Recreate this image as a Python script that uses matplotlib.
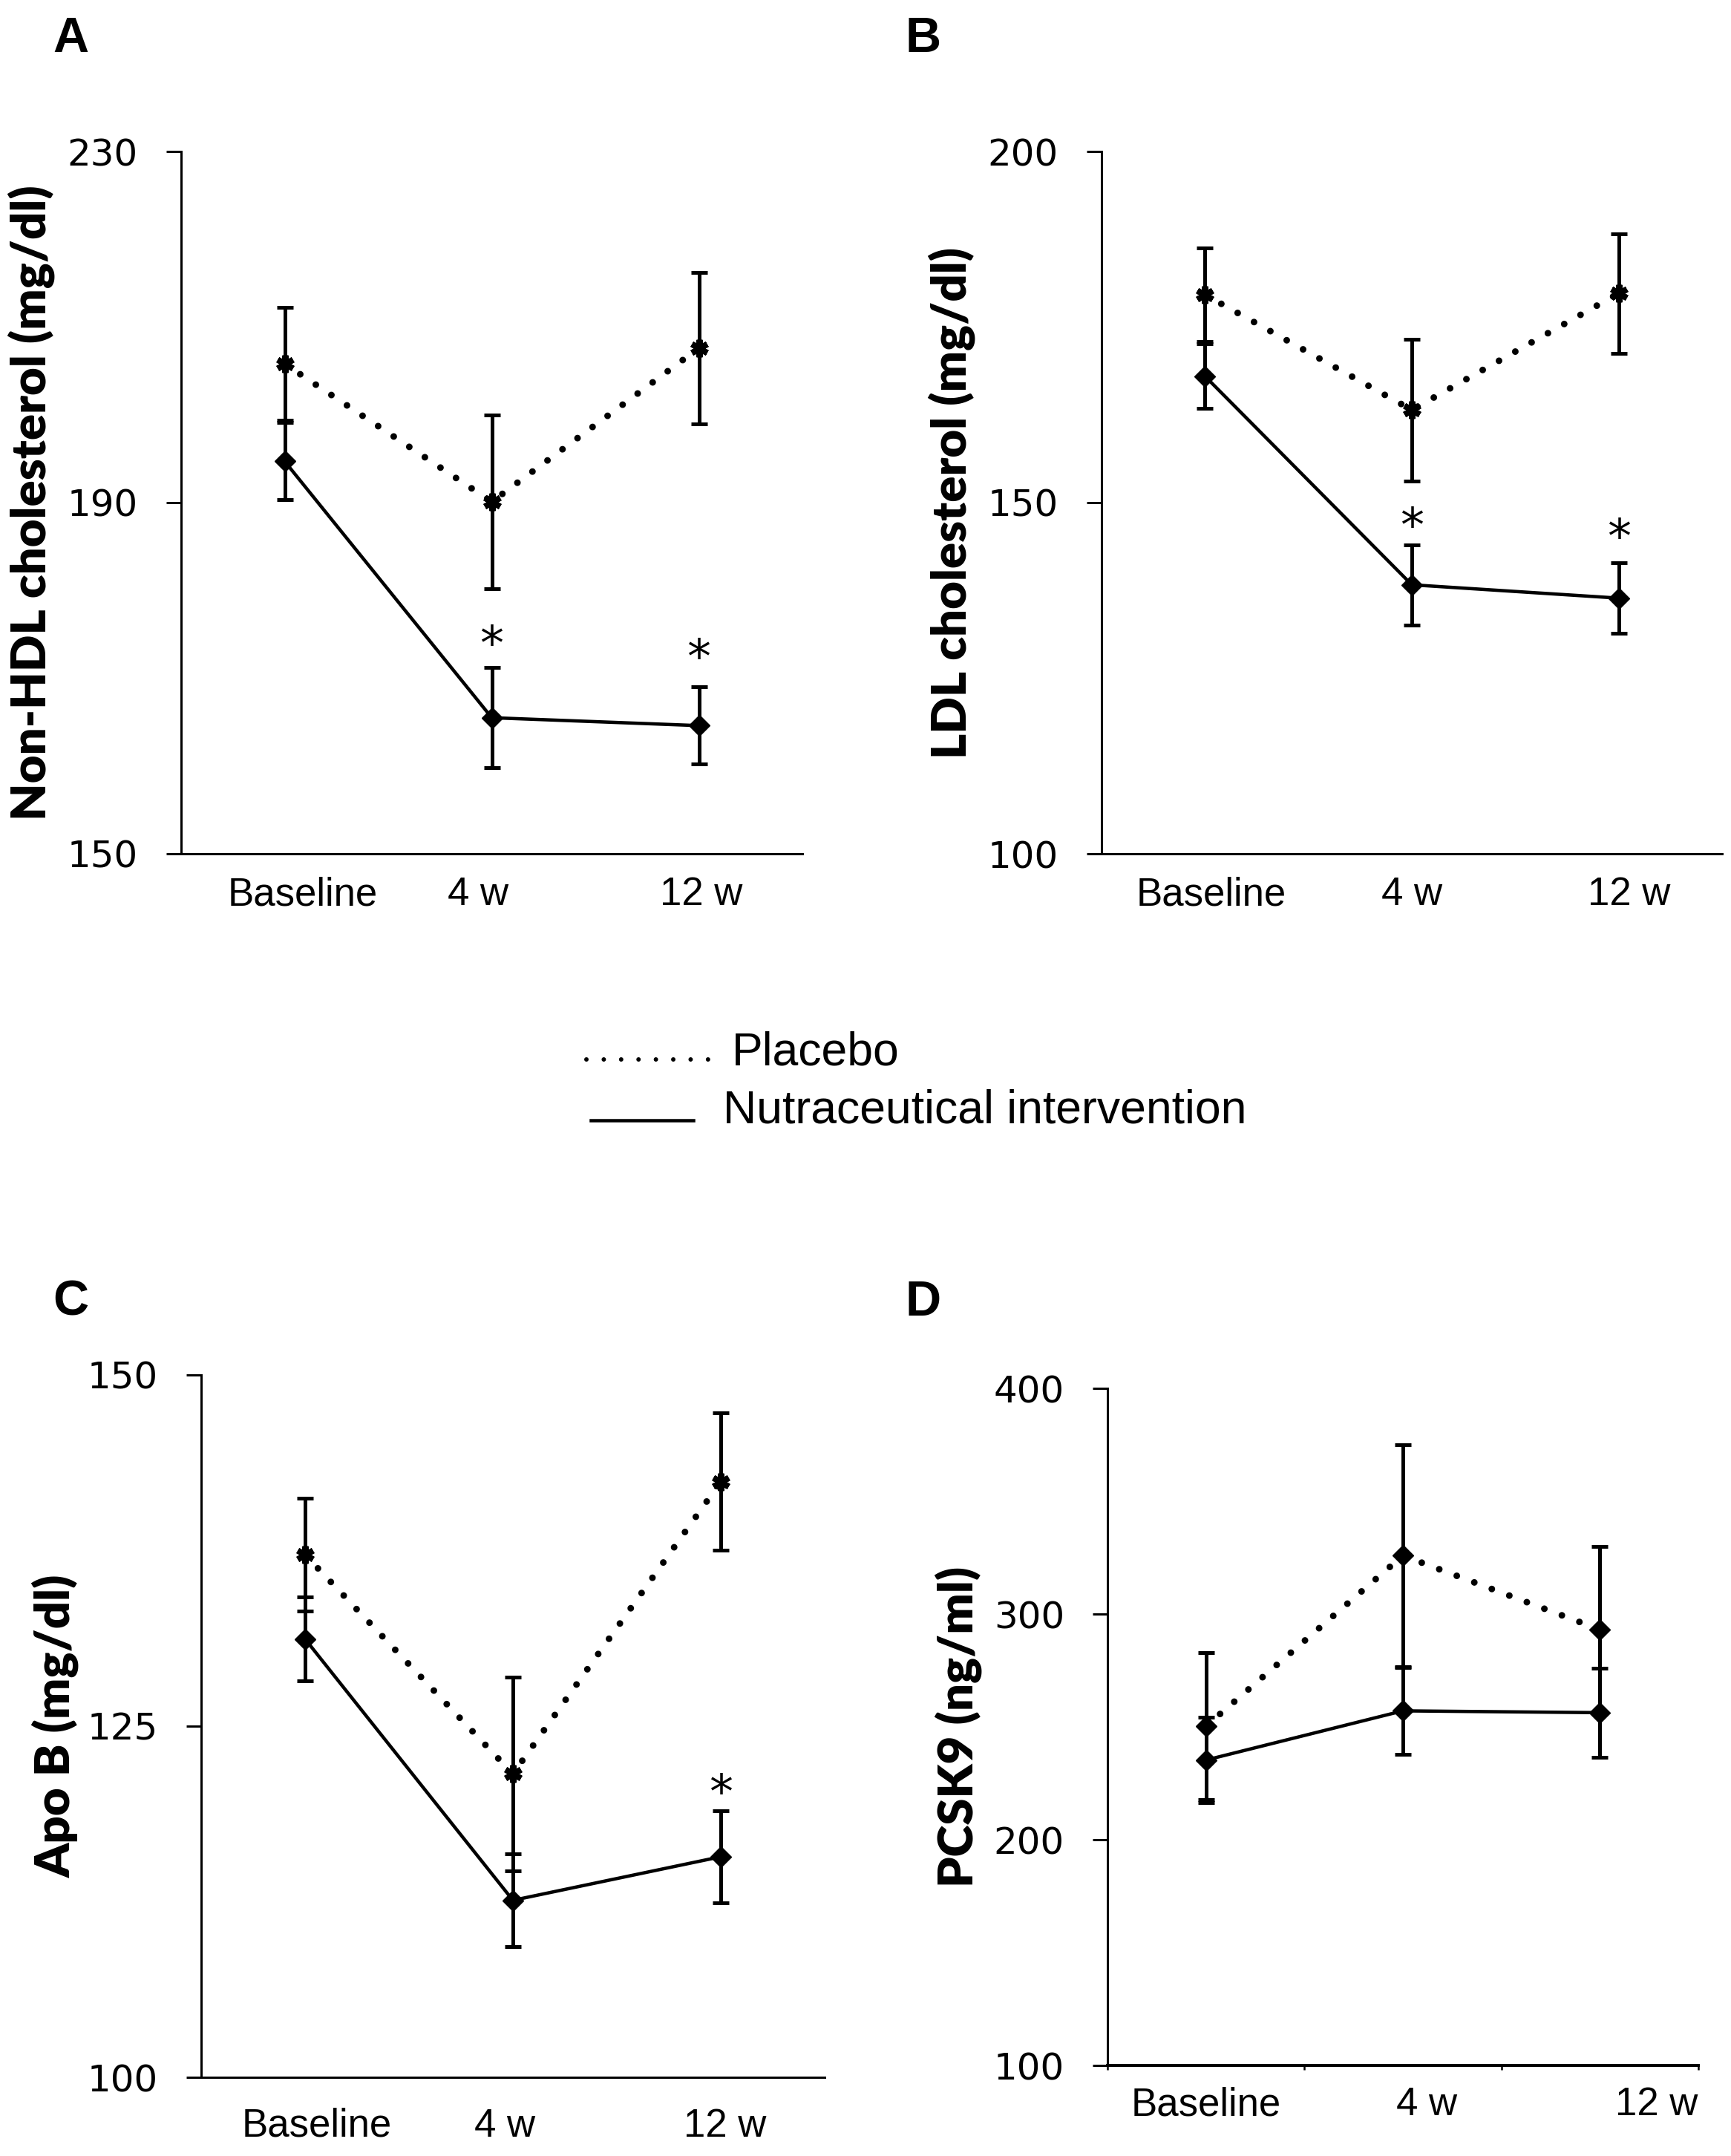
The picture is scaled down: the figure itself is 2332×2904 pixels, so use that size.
import numpy as np
import matplotlib
matplotlib.use("Agg")
import matplotlib.pyplot as plt
from matplotlib.lines import Line2D
from matplotlib.transforms import ScaledTranslation

# ---- data ----
timepoints = ["Baseline", "4 w", "12 w"]

nonhdl_placebo = [205.8, 190.1, 207.6]
nonhdl_placebo_err = [6.4, 9.9, 8.6]
nonhdl_nutra = [194.7, 165.5, 164.6]
nonhdl_nutra_err = [4.4, 5.7, 4.4]
nonhdl_stars = [None, 175.2, 173.7]

ldl_placebo = [179.6, 163.2, 179.8]
ldl_placebo_err = [6.7, 10.1, 8.5]
ldl_nutra = [168.0, 138.3, 136.4]
ldl_nutra_err = [4.6, 5.7, 5.0]
ldl_stars = [None, 148.3, 146.7]

apob_placebo = [137.2, 121.6, 142.4]
apob_placebo_err = [4.0, 6.9, 4.9]
apob_nutra = [131.2, 112.6, 115.7]
apob_nutra_err = [3.0, 3.3, 3.3]
apob_stars = [None, None, 121.1]

pcsk9_placebo = [250.3, 325.9, 293.1]
pcsk9_placebo_err = [32.5, 49.1, 36.8]
pcsk9_nutra = [235.3, 257.1, 256.3]
pcsk9_nutra_err = [18.9, 19.2, 19.7]
pcsk9_stars = [None, None, None]

W, H = 2332, 2904
fig = plt.figure(figsize=(W / 100, H / 100), dpi=100)

def px(v):
    # pixels -> points
    return v * 72 / 100

panels = [
    dict(letter="A", rect=(244, 204, 1081, 1150), ylim=(150, 230), yticks=[150, 190, 230],
         ylabel="Non-HDL cholesterol (mg/dl)", labx=42, placebo=nonhdl_placebo, perr=nonhdl_placebo_err,
         nutra=nonhdl_nutra, nerr=nonhdl_nutra_err, stars=nonhdl_stars, pmark="star",
         letxy=(71, 70), xpad=30, xoff=[24, -18, 3], minor=False),
    dict(letter="B", rect=(1484, 204, 2320, 1150), ylim=(100, 200), yticks=[100, 150, 200],
         ylabel="LDL cholesterol (mg/dl)", labx=1282, placebo=ldl_placebo, perr=ldl_placebo_err,
         nutra=ldl_nutra, nerr=ldl_nutra_err, stars=ldl_stars, pmark="star",
         letxy=(1219, 70), xpad=30, xoff=[8, 0, 14], minor=False),
    dict(letter="C", rect=(271, 1852, 1111, 2798), ylim=(100, 150), yticks=[100, 125, 150],
         ylabel="Apo B (mg/dl)", labx=75, placebo=apob_placebo, perr=apob_placebo_err,
         nutra=apob_nutra, nerr=apob_nutra_err, stars=apob_stars, pmark="star",
         letxy=(71, 1772), xpad=41, xoff=[16, -11, 6], minor=False),
    dict(letter="D", rect=(1492, 1870, 2288, 2782), ylim=(100, 400), yticks=[100, 200, 300, 400],
         ylabel="PCSK9 (ng/ml)", labx=1291, placebo=pcsk9_placebo, perr=pcsk9_placebo_err,
         nutra=pcsk9_nutra, nerr=pcsk9_nutra_err, stars=pcsk9_stars, pmark="diamond",
         letxy=(1219, 1772), xpad=28, xoff=[0, 32, 76], minor=True),
]

x = np.arange(len(timepoints))

for p in panels:
    l, t, r, b = p["rect"]
    ax = fig.add_axes([l / W, 1 - b / H, (r - l) / W, (b - t) / H])
    ax.set_xlim(-0.5, 2.5)
    ax.set_ylim(*p["ylim"])
    ax.set_yticks(p["yticks"])
    ax.set_xticks(x)
    ax.set_xticklabels(timepoints, fontfamily="Liberation Sans", fontsize=38)
    for s in ["top", "right"]:
        ax.spines[s].set_visible(False)
    for s in ["left", "bottom"]:
        ax.spines[s].set_linewidth(px(3))
    ax.tick_params(axis="y", direction="out", length=px(20), width=px(3), pad=px(38), labelsize=36)
    ax.tick_params(axis="x", length=0, pad=px(p["xpad"]))
    if p["minor"]:
        ax.set_xticks([-0.5, 0.5, 1.5, 2.5], minor=True)
        ax.tick_params(axis="x", which="minor", direction="out", length=px(6), width=px(2.5))
        ax.spines["bottom"].set_linewidth(px(4))
    for lab, dx in zip(ax.get_xticklabels(), p["xoff"]):
        lab.set_transform(lab.get_transform() + ScaledTranslation(px(dx) / 72, 0, fig.dpi_scale_trans))

    # placebo (dotted)
    if p["pmark"] == "star":
        pm = dict(marker=(6, 2, 0), ms=17, mew=px(8), mec="black", mfc="black")
    else:
        pm = dict(marker="D", ms=14, mew=1, mec="black", mfc="black")
    ax.plot(x, p["placebo"], color="black", lw=px(9), linestyle=(0, (0.001, 2.8)),
            dash_capstyle="round", zorder=2)
    ax.errorbar(x, p["placebo"], yerr=p["perr"], fmt="none", ecolor="black",
                elinewidth=px(5), capsize=px(11), capthick=px(5), zorder=3)
    ax.plot(x, p["placebo"], linestyle="none", zorder=4, **pm)

    # nutraceutical (solid)
    ax.plot(x, p["nutra"], color="black", lw=px(4.5), zorder=2)
    ax.errorbar(x, p["nutra"], yerr=p["nerr"], fmt="none", ecolor="black",
                elinewidth=px(5), capsize=px(11), capthick=px(5), zorder=3)
    ax.plot(x, p["nutra"], linestyle="none", marker="D", ms=14, mew=1, mec="black",
            mfc="black", zorder=4)

    for xi, sv in zip(x, p["stars"]):
        if sv is not None:
            ax.text(xi, sv, "*", fontsize=46, ha="center", va="baseline",
                    transform=ax.transData + ScaledTranslation(0, -26 / 72, fig.dpi_scale_trans))

    # y label, centred on the axis
    fig.text(p["labx"] / W, 1 - (t + b) / 2 / H, p["ylabel"], rotation=90, ha="center",
             va="center", fontfamily="Lato", fontweight="heavy", fontsize=47)

    # panel letter
    lx, ly = p["letxy"]
    fig.text(lx / W, 1 - ly / H, p["letter"], fontfamily="Liberation Sans", fontweight="bold",
             fontsize=48, ha="left", va="baseline")

# shared legend
fig.add_artist(Line2D([790 / W, 955 / W], [1 - 1427 / H] * 2, color="black", lw=px(6),
                      linestyle=(0, (0.001, 3.9)), dash_capstyle="round"))
fig.text(986 / W, 1 - 1435 / H, "Placebo", fontfamily="Liberation Sans", fontsize=45,
         ha="left", va="baseline")
fig.add_artist(Line2D([796 / W, 934 / W], [1 - 1509 / H] * 2, color="black", lw=px(4.5)))
fig.text(974 / W, 1 - 1512 / H, "Nutraceutical intervention", fontfamily="Liberation Sans",
         fontsize=45, ha="left", va="baseline")

fig.savefig("out.png", dpi=100, facecolor="white")
